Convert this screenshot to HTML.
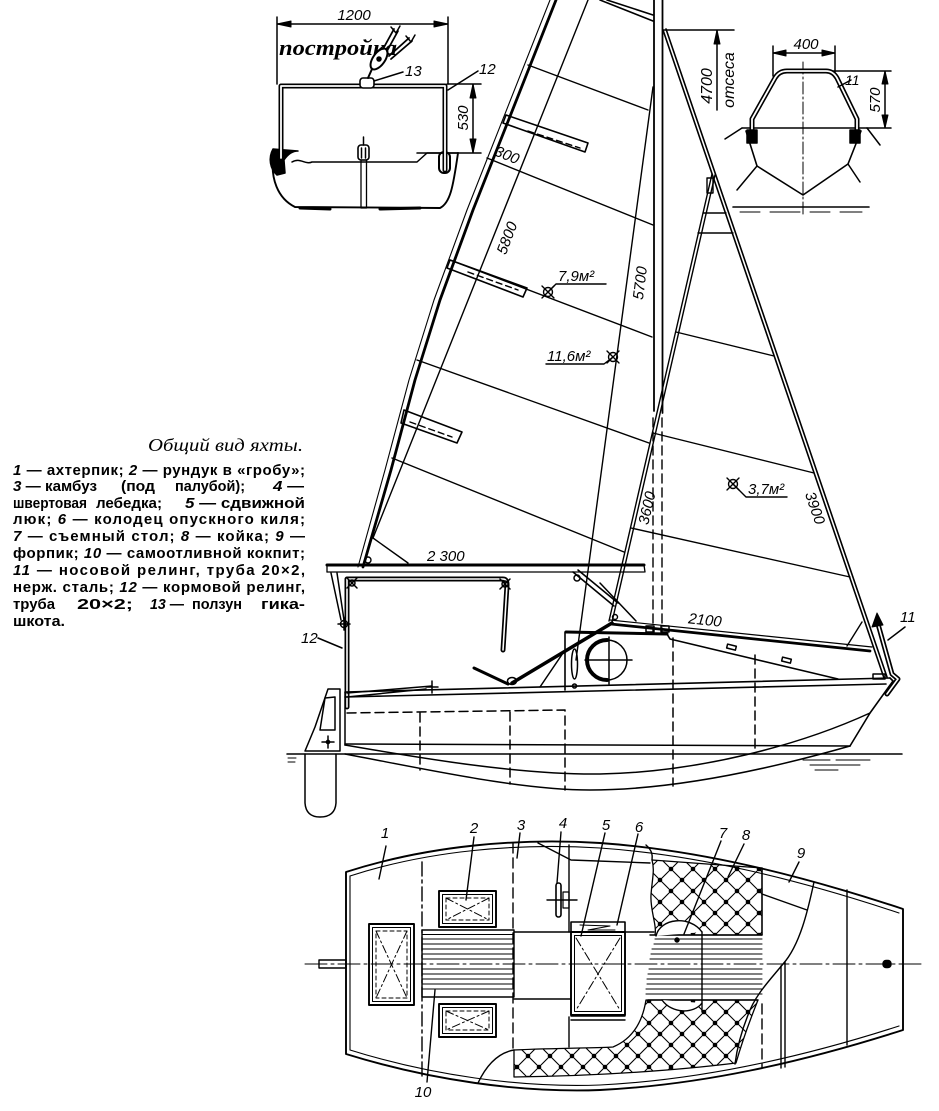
<!DOCTYPE html>
<html><head><meta charset="utf-8"><title>Общий вид яхты</title>
<style>html,body{margin:0;padding:0;background:#fff}svg{display:block}</style>
</head><body>
<svg xmlns="http://www.w3.org/2000/svg" width="939" height="1111" viewBox="0 0 939 1111">
<defs>
<pattern id="q" patternUnits="userSpaceOnUse" x="0" y="0" width="22" height="22">
<path d="M-1,-1 L23,23 M23,-1 L-1,23" stroke="#000" stroke-width="1.1" fill="none"/>
<circle cx="11" cy="11" r="2.3" fill="#000"/>
<circle cx="0" cy="0" r="2.3" fill="#000"/><circle cx="22" cy="0" r="2.3" fill="#000"/><circle cx="0" cy="22" r="2.3" fill="#000"/><circle cx="22" cy="22" r="2.3" fill="#000"/>
</pattern>
</defs>
<rect width="939" height="1111" fill="#fff"/>

<!-- ========== TOP LEFT SECTION ========== -->
<g fill="none" stroke="#000" stroke-width="1.5" stroke-linecap="round" stroke-linejoin="round">
<path d="M277,17 V84 M448,17 V84 M277,24 H448"/>
<path d="M277,24 L291,21 L291,27 Z M448,24 L434,21 L434,27 Z" fill="#000" stroke-width="1"/>
<path d="M447,84 H481 M417,153 H481 M473,84 V153"/>
<path d="M473,84 L470,98 L476,98 Z M473,153 L470,139 L476,139 Z" fill="#000" stroke-width="1"/>
<path d="M273,158 C271,178 277,198 295,207 L440,208 C450,203 453,188 458,153" stroke-width="1.9"/>
<path d="M300,208 L330,209 M380,209 L420,208" stroke-width="3"/>
<path d="M292,162 C300,157 305,165 312,162 L417,162 L427,153 L458,153"/>
<path d="M273,149 C268,158 270,169 277,175 L285,173 L284,160 C288,154 293,151 298,151 Z" fill="#000"/>
<rect x="439" y="152" width="11" height="21" rx="5" stroke-width="2"/>
<path d="M281,158 V86 H445 V170" stroke-width="5"/>
<path d="M281,158 V86 H445 V170" stroke="#fff" stroke-width="1.8"/>
<rect x="358" y="145" width="11" height="15" rx="3" stroke-width="1.6"/>
<path d="M363.5,137 V145 M361.5,148 V158 M365.5,148 V158"/>
<rect x="361" y="160" width="5.5" height="48" stroke-width="1.3"/>
</g>
<text x="279" y="55" font-family="'Liberation Serif', serif" font-weight="bold" font-style="italic" font-size="22" textLength="118" lengthAdjust="spacingAndGlyphs">постройка</text>
<g fill="none" stroke="#000" stroke-width="1.5" stroke-linecap="round" stroke-linejoin="round">
<rect x="360" y="78" width="14" height="10" rx="3" fill="#fff" stroke-width="1.6"/>
<path d="M368,78 L372,69" stroke-width="2"/>
<ellipse cx="379" cy="59" rx="12" ry="6" transform="rotate(-55 379 59)" fill="#fff" stroke-width="2"/>
<circle cx="379" cy="59" r="2" fill="#000"/>
<path d="M383,49 L394,29 M387,51 L398,31 M389,56 L409,38 M391,59 L412,41" stroke-width="1.8"/>
<path d="M391,27 L396,33 L400,26 M406,36 L411,42 L415,35" stroke-width="1.5"/>
<path d="M374,81 L403,72 M448,90 L478,71"/>
</g>

<!-- ========== TOP RIGHT SECTION ========== -->
<g fill="none" stroke="#000" stroke-width="1.5" stroke-linecap="round" stroke-linejoin="round">
<path d="M663,30 H734 M717,31 V110"/>
<path d="M717,30 L714,44 L720,44 Z" fill="#000" stroke-width="1"/>
<path d="M773,46 V76 M835,46 V72 M773,53 H835"/>
<path d="M773,53 L786,50 L786,56 Z M835,53 L822,50 L822,56 Z" fill="#000" stroke-width="1"/>
<path d="M832,71 H891 M867,128 H891 M885,71 V128"/>
<path d="M885,71 L882,84 L888,84 Z M885,128 L882,115 L888,115 Z" fill="#000" stroke-width="1"/>
<path d="M742,128 H867"/>
<path d="M742,128 L725,139 M867,128 L880,145"/>
<path d="M746,131 L757,166 L803,195 L848,164 L861,131" stroke-width="1.6"/>
<path d="M757,166 L737,190 M848,164 L860,182"/>
<path d="M803,62 V216" stroke-width="1" stroke-dasharray="12 3 2 3"/>
<path d="M733,207 H869" stroke-width="1.6"/>
<path d="M740,212 H760 M770,212 H800 M810,212 H830 M840,212 H862" stroke-width="1"/>
<path d="M752,130 V119 L775,78 Q779,71 787,71 H826 Q833,71 837,78 L857,119 V130" stroke-width="5"/>
<path d="M752,130 V119 L775,78 Q779,71 787,71 H826 Q833,71 837,78 L857,119 V130" stroke="#fff" stroke-width="1.8"/>
<rect x="747" y="130" width="10" height="13" fill="#000"/>
<rect x="850" y="130" width="10" height="13" fill="#000"/>
<path d="M838,87 L851,80"/>
</g>

<!-- ========== SAILS & RIG ========== -->
<g fill="none" stroke="#000" stroke-width="1.4" stroke-linecap="round" stroke-linejoin="round">
<line x1="654" y1="0" x2="654" y2="411" stroke-width="1.8"/>
<line x1="662.5" y1="0" x2="662.5" y2="413" stroke-width="1.8"/>
<line x1="653" y1="418" x2="653" y2="632" stroke-dasharray="9 5"/>
<line x1="662" y1="418" x2="662" y2="632" stroke-dasharray="9 5"/>
<path d="M600,0 L653,21 M607,0 L653,15" stroke-width="1.6"/>
<polyline points="556,0 473,210 440,300 415,380 391,470 363,567" stroke-width="2.8"/>
<polyline points="550,0 467,210 434,300 409,380 385,470 358,567" stroke-width="1.1"/>
<line x1="588" y1="0" x2="373" y2="538"/>
<line x1="373" y1="538" x2="408" y2="563"/>
<circle cx="368" cy="560" r="3"/>
<path d="M528,65 L648,110 M487,158 L653,225 M450,260 L652,337 M417,360 L649,443 M392,458 L624,552"/>
<polygon points="506,115 588,143 585,152 503,123" stroke-width="1.6"/>
<path d="M528,131 L580,148" stroke-dasharray="6 4"/>
<polygon points="450,260 527,288 523,297 447,268" stroke-width="1.6"/>
<path d="M468,272 L518,290" stroke-dasharray="6 4"/>
<polygon points="404,410 462,432 457,443 401,423" stroke-width="1.6"/>
<path d="M410,422 L452,437" stroke-dasharray="6 4"/>
<line x1="653" y1="87" x2="576" y2="660"/>
<line x1="663" y1="30" x2="884" y2="678" stroke-width="1.6"/>
<line x1="666" y1="29" x2="887" y2="677" stroke-width="1.6"/>
<line x1="712" y1="174" x2="609" y2="621"/>
<line x1="715" y1="175" x2="612" y2="622"/>
<rect x="707" y="178" width="6" height="15"/>
<path d="M703,213 H726 M698,233 H733"/>
<path d="M676,332 L774,356 M653,433 L814,473 M631,528 L850,577"/>
<line x1="610" y1="620" x2="872" y2="647" stroke-width="1.2"/>
<line x1="611" y1="624" x2="870" y2="651" stroke-width="2.8"/>
<path d="M847,646 L862,622"/>
<circle cx="615" cy="617" r="2.5"/>
<circle cx="548" cy="292" r="4.5"/><path d="M542,286 L554,298 M554,286 L542,298"/>
<path d="M548,292 L556,284 H606"/>
<circle cx="613" cy="357" r="4.5"/><path d="M607,351 L619,363 M619,351 L607,363"/>
<path d="M613,357 L604,364 H546"/>
<circle cx="733" cy="484" r="4.5"/><path d="M727,478 L739,490 M739,478 L727,490"/>
<path d="M733,484 L746,497 H787"/>
<line x1="327" y1="565" x2="644" y2="565" stroke-width="3"/>
<line x1="327" y1="572" x2="644" y2="572" stroke-width="1.3"/>
<line x1="644" y1="565" x2="645" y2="572" stroke-width="1.3"/>
<line x1="327" y1="565" x2="327" y2="572" stroke-width="1.3"/>
</g>

<!-- ========== HULL SIDE VIEW ========== -->
<g fill="none" stroke="#000" stroke-width="1.5" stroke-linecap="round" stroke-linejoin="round">
<path d="M347,707 V579 H503 Q507,579 507,585 L503,650" stroke-width="5"/>
<path d="M347,707 V579 H503 Q507,579 507,585 L503,650" stroke="#fff" stroke-width="1.6"/>
<circle cx="352" cy="583" r="3"/><path d="M347,578 L357,588 M357,578 L347,588"/>
<circle cx="505" cy="584" r="3"/><path d="M500,579 L510,589 M510,579 L500,589"/>
<path d="M331,573 L341,620 M337,573 L344,620"/>
<circle cx="344" cy="624" r="3.5"/><path d="M338,624 H350 M344,618 V630"/>
<path d="M573,572 L614,606 M578,570 L618,603" stroke-width="1.6"/>
<circle cx="577" cy="578" r="3"/>
<path d="M600,583 L636,621"/>
<line x1="512" y1="683" x2="612" y2="623" stroke-width="3.5"/>
<line x1="474" y1="668" x2="508" y2="684" stroke-width="3"/>
<ellipse cx="512" cy="681" rx="4.5" ry="3.5"/>
<line x1="540" y1="687" x2="563" y2="653"/>
<ellipse cx="574.5" cy="664" rx="3" ry="15"/>
<circle cx="574.5" cy="686" r="2"/>
<path d="M565,690 V632 L667,634 L670,639 L838,679" stroke-width="1.6"/>
<line x1="566" y1="632" x2="667" y2="634" stroke-width="3"/>
<rect x="727" y="645" width="9" height="4" transform="rotate(14 731 647)"/>
<rect x="782" y="658" width="9" height="4" transform="rotate(14 786 660)"/>
<rect x="646" y="626" width="8" height="6"/>
<rect x="661" y="626" width="8" height="6"/>
<circle cx="607" cy="660" r="20"/>
<path d="M607,640 A20,20 0 0,0 607,680" stroke-width="4"/>
<path d="M585,660 H632 M609,637 V684"/>
<line x1="345" y1="692" x2="890" y2="678" stroke-width="1.6"/>
<line x1="345" y1="697" x2="886" y2="684" stroke-width="1.6"/>
<path d="M345,692 V745"/>
<polyline points="890,678 893,681 870,713 850,746" stroke-width="1.6"/>
<line x1="345" y1="744" x2="850" y2="746"/>
<path d="M345,745 C420,758 520,775 600,774 C700,772 800,745 870,713"/>
<path d="M345,754 C430,770 520,790 590,790 C680,790 780,766 850,746"/>
<line x1="287" y1="754" x2="902" y2="754"/>
<path d="M288,758 H296 M288,762 H295" stroke-width="1"/>
<path d="M803,760 H830 M836,760 H870 M810,765 H860 M815,770 H838" stroke-width="1"/>
<path d="M328,689 H340 V751 H305 L315,727 Z"/>
<path d="M325,698 L335,697 V730 H320 Z"/>
<path d="M322,742 H334 M328,736 V748"/>
<circle cx="328" cy="742" r="1.6" fill="#000"/>
<path d="M305,754 L305,803 Q306,817 320,817 Q335,817 336,803 L336,754"/>
<path d="M347,693 L432,686 M347,697 L426,689"/>
<path d="M426,687 H438 M432,681 V693"/>
<g stroke-dasharray="9 5">
<path d="M347,713 L565,710 L565,790"/>
<path d="M420,713 V770 M510,712 V784 M673,638 V786 M755,655 V752"/>
</g>
<path d="M878,624 L892,674 L898,679 L887,694" stroke-width="5"/>
<path d="M878,624 L892,674 L898,679 L887,694" stroke="#fff" stroke-width="1.6"/>
<path d="M877,613 L872,627 L883,625 Z" fill="#000" stroke-width="1"/>
<rect x="873" y="674" width="12" height="5"/>
<path d="M905,627 L888,640 M318,638 L342,648"/>
</g>

<!-- ========== PLAN VIEW ========== -->
<g fill="none" stroke="#000" stroke-width="1.4" stroke-linecap="round" stroke-linejoin="round">
<path d="M346,872 C430,845 520,838 600,843 C700,850 800,875 903,909 L903,1030 C800,1063 700,1085 600,1090 C520,1093 430,1080 346,1054 Z" stroke-width="1.9"/>
<path d="M350,876 C430,850 520,843 600,848 C700,855 800,880 899,913" stroke-width="1.1"/>
<path d="M350,1050 C430,1075 520,1088 600,1085 C700,1080 800,1058 899,1026" stroke-width="1.1"/>
<line x1="350" y1="876" x2="350" y2="1050" stroke-width="1.1"/>
<line x1="305" y1="964" x2="922" y2="964" stroke-width="1" stroke-dasharray="22 4 3 4"/>
<rect x="319" y="960" width="27" height="8"/>
<rect x="883" y="960.5" width="8" height="7" rx="3" fill="#000"/>
<line x1="422" y1="862" x2="422" y2="1080" stroke-dasharray="14 4 3 4"/>
<line x1="513" y1="843" x2="513" y2="1050" stroke-dasharray="10 5"/>
<line x1="762" y1="1004" x2="762" y2="1068" stroke-dasharray="10 5"/>
<rect x="369" y="924" width="45" height="81" stroke-width="1.9"/>
<rect x="372.5" y="927.5" width="38" height="74" stroke-width="1"/>
<rect x="376" y="931" width="31" height="67" stroke-width="1" stroke-dasharray="4 3"/>
<path d="M376,931 L407,998 M407,931 L376,998" stroke-width="1" stroke-dasharray="8 3 2 3"/>
<rect x="439" y="891" width="57" height="36" stroke-width="1.9"/>
<rect x="442.5" y="894.5" width="50" height="29" stroke-width="1"/>
<rect x="446" y="898" width="43" height="22" stroke-width="1" stroke-dasharray="4 3"/>
<path d="M446,898 L489,920 M489,898 L446,920" stroke-width="1" stroke-dasharray="8 3 2 3"/>
<rect x="439" y="1004" width="57" height="33" stroke-width="1.9"/>
<rect x="442.5" y="1007.5" width="50" height="26" stroke-width="1"/>
<rect x="446" y="1011" width="43" height="19" stroke-width="1" stroke-dasharray="4 3"/>
<path d="M446,1011 L489,1030 M489,1011 L446,1030" stroke-width="1" stroke-dasharray="8 3 2 3"/>
<rect x="422" y="930" width="92" height="67"/>
<path d="M422,934.5 H514 M422,939 H514 M422,944 H514 M422,949 H514 M422,954 H514 M422,959 H514 M422,969 H514 M422,974 H514 M422,979 H514 M422,984 H514 M422,989 H514" stroke-width="1.1"/>
<path d="M514,932 H654 M514,999 H571"/>
<path d="M538,843 L571,860 L650,863"/>
<path d="M569,845 V932 M569,1017 V1047"/>
<rect x="571" y="932" width="54" height="83" stroke-width="1.9"/>
<rect x="574.5" y="935.5" width="47" height="76" stroke-width="1"/>
<path d="M576,938 L620,1010 M620,938 L576,1010" stroke-width="1" stroke-dasharray="9 3 2 3"/>
<rect x="571" y="922" width="54" height="10" stroke-width="1.6"/>
<path d="M580,925 L610,926 L588,930 L615,930" stroke-width="1"/>
<path d="M571,1016 H625 M571,1020 H625"/>
<rect x="556" y="883" width="5" height="34" rx="2.5" stroke-width="1.6"/>
<path d="M547,900 H577"/>
<rect x="563" y="892" width="6" height="16" stroke-width="1.2"/>
<path d="M650,935 H762 M648,1000 H758"/>
<path d="M655,939 H762 M654,944 H762 M652,949 H762 M651,954 H762 M650,959 H762 M649,969 H762 M648,974 H762 M647,979 H762 M647,984 H762 M646,989 H762 M646,994 H762" stroke-width="1.1"/>
<path d="M652,860 L762,868 L762,935 L655,935 C657,925 650,910 651,895 C652,880 655,870 652,860 Z" fill="url(#q)" stroke-width="1.3"/>
<path d="M646,1000 L758,1000 C752,1015 744,1035 736,1063 C680,1070 600,1076 514,1077 L514,1050 C560,1048 600,1048 613,1047 C630,1040 642,1025 646,1000 Z" fill="url(#q)" stroke-width="1.3"/>
<path d="M646,845 C654,852 652,858 652,860"/>
<path d="M478,1083 C486,1066 497,1053 514,1050"/>
<path d="M656,936 C660,918 690,915 702,932" fill="#fff"/>
<path d="M702,932 V1012"/>
<path d="M662,1000 C672,1014 694,1014 702,1003" fill="#fff"/>
<circle cx="677" cy="940" r="2" fill="#000"/>
<path d="M814,882 C808,910 800,945 783,964 C770,980 755,995 748,1015 C742,1030 737,1048 735,1064"/>
<path d="M762,868 V935 M762,894 L807,910"/>
<path d="M847,890 V1045"/>
<path d="M781,966 V1068 M785,962 V1067"/>
<path d="M386,846 L379,879 M474,837 L466,900 M520,833 L517,858 M561,832 L557,883 M605,833 L581,936 M638,834 L617,925 M721,841 L684,934 M744,844 L728,877 M799,862 L789,882 M427,1082 L435,990"/>
</g>

<!-- ========== LABELS ========== -->
<g font-family="'Liberation Sans', sans-serif" font-style="italic" font-size="15" fill="#000">
<text x="354" y="20" text-anchor="middle">1200</text>
<text x="405" y="76">13</text>
<text x="479" y="74">12</text>
<text transform="translate(468,118) rotate(-90)" text-anchor="middle">530</text>
<text x="806" y="49" text-anchor="middle">400</text>
<text x="845" y="85" font-size="14">11</text>
<text transform="translate(880,100) rotate(-90)" text-anchor="middle">570</text>
<text transform="translate(712,86) rotate(-90)" text-anchor="middle" font-size="16">4700</text>
<text transform="translate(734,80) rotate(-90)" text-anchor="middle" font-size="16">отсеса</text>
<text transform="translate(507,155) rotate(22)" y="5" text-anchor="middle">300</text>
<text transform="translate(507,238) rotate(-69)" y="5" text-anchor="middle">5800</text>
<text transform="translate(640,283) rotate(-83)" y="5" text-anchor="middle">5700</text>
<text transform="translate(647,508) rotate(-77)" y="5" text-anchor="middle">3600</text>
<text transform="translate(815,508) rotate(71)" y="5" text-anchor="middle">3900</text>
<text transform="translate(705,620) rotate(6)" y="5" text-anchor="middle">2100</text>
<text x="427" y="561">2 300</text>
<text x="558" y="281">7,9м²</text>
<text x="547" y="361">11,6м²</text>
<text x="748" y="494">3,7м²</text>
<text x="900" y="622">11</text>
<text x="301" y="643">12</text>
<text x="385" y="838" text-anchor="middle">1</text>
<text x="474" y="833" text-anchor="middle">2</text>
<text x="521" y="830" text-anchor="middle">3</text>
<text x="563" y="828" text-anchor="middle">4</text>
<text x="606" y="830" text-anchor="middle">5</text>
<text x="639" y="832" text-anchor="middle">6</text>
<text x="723" y="838" text-anchor="middle">7</text>
<text x="746" y="840" text-anchor="middle">8</text>
<text x="801" y="858" text-anchor="middle">9</text>
<text x="423" y="1097" text-anchor="middle">10</text>
</g>

<!-- ========== CAPTION ========== -->
<text x="148" y="451" font-family="'Liberation Serif', serif" font-style="italic" font-size="18" textLength="155" lengthAdjust="spacingAndGlyphs">Общий вид яхты.</text>
<g font-family="'Liberation Sans', sans-serif" font-weight="bold" font-size="15" fill="#000">
<text x="13" y="475" textLength="292" lengthAdjust="spacing"><tspan font-style="italic">1</tspan> — ахтерпик; <tspan font-style="italic">2</tspan> — рундук в «гробу»;</text>
<text x="13" y="491" textLength="84" lengthAdjust="spacingAndGlyphs"><tspan font-style="italic">3</tspan> — камбуз</text>
<text x="121" y="491" textLength="34" lengthAdjust="spacingAndGlyphs">(под</text>
<text x="175" y="491" textLength="70" lengthAdjust="spacingAndGlyphs">палубой);</text>
<text x="273" y="491" textLength="31" lengthAdjust="spacingAndGlyphs"><tspan font-style="italic">4</tspan> —</text>
<text x="13" y="508" textLength="74" lengthAdjust="spacingAndGlyphs">швертовая</text>
<text x="96" y="508" textLength="66" lengthAdjust="spacingAndGlyphs">лебедка;</text>
<text x="185" y="508" textLength="120" lengthAdjust="spacingAndGlyphs"><tspan font-style="italic">5</tspan> — сдвижной</text>
<text x="13" y="524" textLength="292" lengthAdjust="spacing">люк; <tspan font-style="italic">6</tspan> — колодец опускного киля;</text>
<text x="13" y="541" textLength="292" lengthAdjust="spacing"><tspan font-style="italic">7</tspan> — съемный  стол;  <tspan font-style="italic">8</tspan> — койка;  <tspan font-style="italic">9</tspan> —</text>
<text x="13" y="558" textLength="292" lengthAdjust="spacing">форпик; <tspan font-style="italic">10</tspan> — самоотливной кокпит;</text>
<text x="13" y="575" textLength="292" lengthAdjust="spacing"><tspan font-style="italic">11</tspan> — носовой релинг, труба 20×2,</text>
<text x="13" y="592" textLength="292" lengthAdjust="spacing">нерж. сталь; <tspan font-style="italic">12</tspan> — кормовой релинг,</text>
<text x="13" y="609" textLength="42" lengthAdjust="spacingAndGlyphs">труба</text>
<text x="77" y="609" textLength="56" lengthAdjust="spacingAndGlyphs">20×2;</text>
<text x="150" y="609" textLength="34" lengthAdjust="spacingAndGlyphs"><tspan font-style="italic">13</tspan> —</text>
<text x="192" y="609" textLength="50" lengthAdjust="spacingAndGlyphs">ползун</text>
<text x="261" y="609" textLength="44" lengthAdjust="spacingAndGlyphs">гика-</text>
<text x="13" y="626" textLength="52" lengthAdjust="spacingAndGlyphs">шкота.</text>
</g>
</svg>
</body></html>
